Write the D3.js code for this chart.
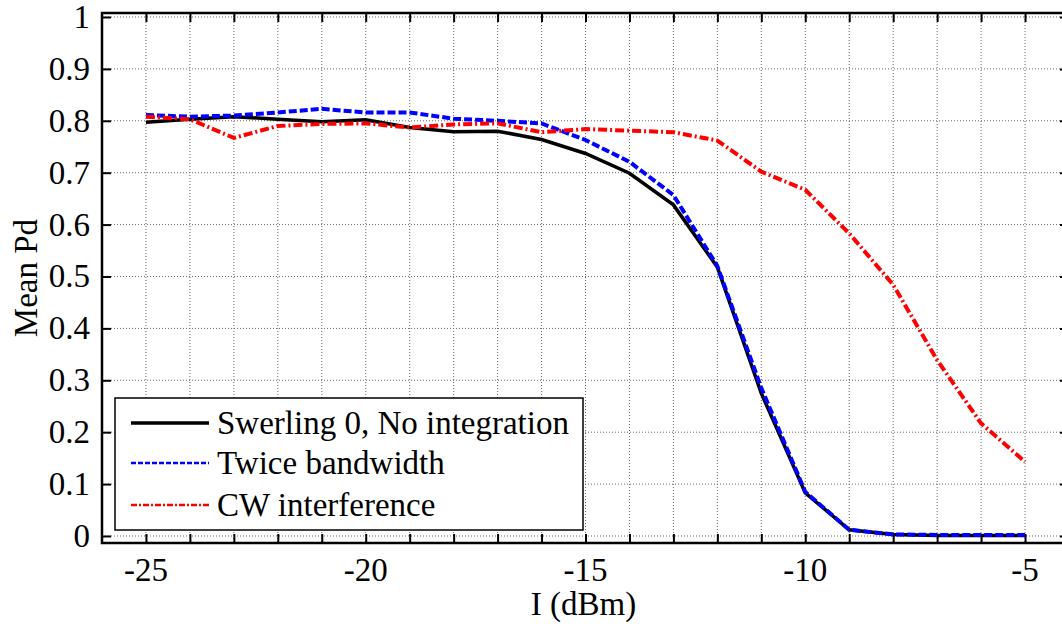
<!DOCTYPE html>
<html>
<head>
<meta charset="utf-8">
<script src="https://cdn.jsdelivr.net/npm/d3@7"></script>
<style>
  body { margin: 0; background: white; }
  svg { display: block; font-family: "Liberation Serif", "Times New Roman", serif; }
</style>
</head>
<body>
<svg width="1062" height="627"></svg>
<script>
var width = 1062, height = 627;

// data
var xValues = [-25, -24, -23, -22, -21, -20, -19, -18, -17, -16, -15, -14, -13, -12, -11, -10, -9, -8, -7, -6, -5];
var swerling = [0.797, 0.803, 0.808, 0.803, 0.798, 0.802, 0.787, 0.779, 0.780, 0.764, 0.737, 0.699, 0.638, 0.518, 0.275, 0.083, 0.012, 0.003, 0.001, 0.001, 0.001];
var twiceBw  = [0.811, 0.808, 0.810, 0.816, 0.823, 0.816, 0.816, 0.804, 0.800, 0.795, 0.763, 0.721, 0.657, 0.520, 0.285, 0.085, 0.012, 0.003, 0.002, 0.002, 0.002];
var cwInterf = [0.808, 0.803, 0.767, 0.790, 0.794, 0.795, 0.787, 0.793, 0.795, 0.778, 0.784, 0.781, 0.778, 0.762, 0.702, 0.667, 0.583, 0.484, 0.339, 0.217, 0.143];
var seriesNames = ["Swerling 0, No integration", "Twice bandwidth", "CW interference"];
var xTicks = [-25, -20, -15, -10, -5];
var yTicks = [0, 0.1, 0.2, 0.3, 0.4, 0.5, 0.6, 0.7, 0.8, 0.9, 1];

var svg = d3.select('svg');

var pLeft = 102, pRight = 1069, pTop = 13, pBottom = 543;
var fontSize = 33;

var x = d3.scaleLinear().domain([-26, -4]).range([pLeft, pRight]);
var y = d3.scaleLinear().domain([-0.0135, 1.0077]).range([pBottom, pTop]);

var g = svg.append('g');

// grid
var gridX = d3.range(-25, -4, 1);
g.selectAll('.gx').data(gridX).enter().append('line')
  .attr('x1', function(d) { return x(d); })
  .attr('x2', function(d) { return x(d); })
  .attr('y1', pTop).attr('y2', pBottom)
  .attr('stroke', '#666').attr('stroke-width', 1)
  .attr('stroke-dasharray', '1,2');
g.selectAll('.gy').data(yTicks).enter().append('line')
  .attr('x1', pLeft).attr('x2', pRight)
  .attr('y1', function(d) { return y(d); })
  .attr('y2', function(d) { return y(d); })
  .attr('stroke', '#666').attr('stroke-width', 1)
  .attr('stroke-dasharray', '1,2');

// frame + inward ticks
var tickLen = 9;
var xAxisB = d3.axisBottom(x).tickValues(gridX).tickSize(-tickLen).tickFormat('');
var xAxisT = d3.axisTop(x).tickValues(gridX).tickSize(-tickLen).tickFormat('');
var yAxisL = d3.axisLeft(y).tickValues(yTicks).tickSize(-tickLen).tickFormat('');
var yAxisR = d3.axisRight(y).tickValues(yTicks).tickSize(-tickLen).tickFormat('');

[[xAxisB, 'translate(0,' + pBottom + ')'], [xAxisT, 'translate(0,' + pTop + ')'],
 [yAxisL, 'translate(' + pLeft + ',0)'], [yAxisR, 'translate(' + pRight + ',0)']].forEach(function(a) {
  var ax = g.append('g').attr('transform', a[1]).call(a[0]);
  ax.select('.domain').remove();
  ax.selectAll('line').attr('stroke', 'black').attr('stroke-width', 2);
});

g.append('rect')
  .attr('x', pLeft).attr('y', pTop)
  .attr('width', pRight - pLeft).attr('height', pBottom - pTop)
  .attr('fill', 'none').attr('stroke', 'black').attr('stroke-width', 2.5);

// tick labels
g.selectAll('.xl').data(xTicks).enter().append('text')
  .attr('x', function(d) { return x(d); })
  .attr('y', 581)
  .attr('text-anchor', 'middle')
  .attr('font-size', fontSize)
  .text(function(d) { return d; });
g.selectAll('.yl').data(yTicks).enter().append('text')
  .attr('x', 90)
  .attr('y', function(d) { return y(d) + 11; })
  .attr('text-anchor', 'end')
  .attr('font-size', fontSize)
  .text(function(d) { return d; });

svg.append('text')
  .attr('x', (pLeft + pRight) / 2 - 2).attr('y', 615)
  .attr('text-anchor', 'middle').attr('font-size', fontSize)
  .text('I (dBm)');
svg.append('text')
  .attr('transform', 'translate(37,' + (pTop + pBottom) / 2 + ')rotate(-90)')
  .attr('text-anchor', 'middle').attr('font-size', fontSize)
  .text('Mean Pd');

// lines
var styles = [
  { color: 'black', dash: null, w: 3.5, lw: 3.5 },
  { color: '#0000ff', dash: '8,3', w: 4, lw: 2.5 },
  { color: '#ff0000', dash: '9,3,2,3', w: 4, lw: 2.5 }
];
var allSeries = [swerling, twiceBw, cwInterf];

var line = d3.line()
  .x(function(d) { return x(d[0]); })
  .y(function(d) { return y(d[1]); });

allSeries.forEach(function(s, i) {
  g.append('path')
    .datum(xValues.map(function(v, j) { return [v, s[j]]; }))
    .attr('d', line)
    .attr('fill', 'none')
    .attr('stroke', styles[i].color)
    .attr('stroke-width', styles[i].w)
    .attr('stroke-dasharray', styles[i].dash);
});

// legend
var leg = svg.append('g');
leg.append('rect')
  .attr('x', 115).attr('y', 398).attr('width', 468).attr('height', 132)
  .attr('fill', 'white').attr('stroke', 'black').attr('stroke-width', 1.5);
var rowY = [423, 463, 505];
seriesNames.forEach(function(n, i) {
  leg.append('line')
    .attr('x1', 131).attr('x2', 209)
    .attr('y1', rowY[i]).attr('y2', rowY[i])
    .attr('stroke', styles[i].color)
    .attr('stroke-width', styles[i].lw)
    .attr('stroke-dasharray', i === 0 ? null : (i === 1 ? '5,2' : '6,2,2,2'));
  leg.append('text')
    .attr('x', 217).attr('y', rowY[i] + 11)
    .attr('font-size', fontSize)
    .text(n);
});
</script>
</body>
</html>
